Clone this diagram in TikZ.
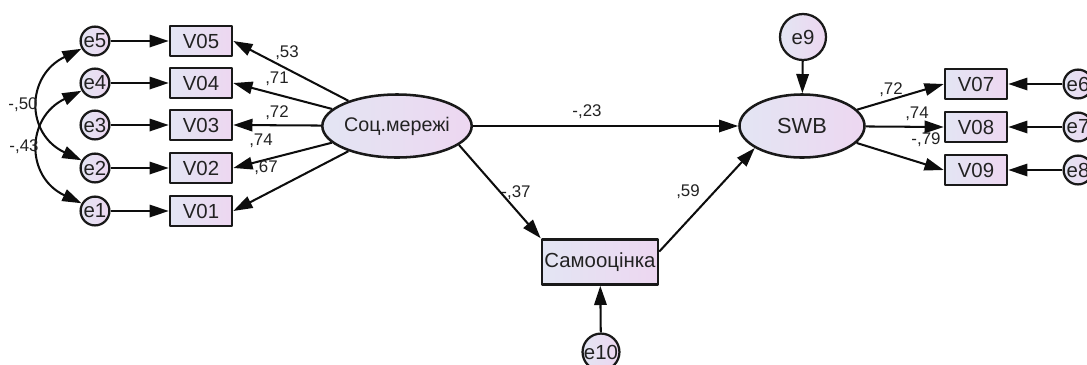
\documentclass[tikz,border=0pt]{standalone}
\usepackage{fontspec}
\setmainfont{Liberation Sans}
\usetikzlibrary{arrows.meta,shapes.geometric,positioning}

\definecolor{semBlue}{HTML}{E3E5F3}
\definecolor{semPink}{HTML}{EDD7F1}
\definecolor{semText}{HTML}{222222}

\begin{document}
\begin{tikzpicture}[
		x=0.025cm, y=-0.025cm,
		>={Triangle[length=4.8mm,width=3.1mm]},
		line join=round,
		]
		% Стилі
		\tikzset{
			obsbox/.style={rectangle, draw=black!90, line width=1.8pt, left color=semBlue, right color=semPink,
				minimum width=1.55cm, minimum height=0.75cm, inner sep=0pt, text=semText,
				font=\fontsize{14.5}{16}\selectfont},
			errc/.style={circle, draw=black!90, line width=1.6pt, left color=semBlue, right color=semPink,
				minimum size=0.72cm, inner sep=0pt, text=semText, font=\fontsize{14.5}{16}\selectfont},
			latent/.style={ellipse, draw=black!90, line width=1.8pt, left color=semBlue, right color=semPink,
				minimum width=3.125cm, minimum height=1.575cm, inner sep=0pt, text=semText,
				font=\fontsize{14}{16}\selectfont},
			coef/.style={inner sep=0pt, text=semText, font=\fontsize{12}{14}\selectfont},
			path/.style={->, line width=1.45pt, draw=black!95}
		}
		\useasboundingbox (0,0) rectangle (1087,364);

		% ===== Латентні змінні =====
		\node[latent] (soc) at (397,126) {Соц.мережі};
		\node[latent, font=\fontsize{15.5}{18}\selectfont] (swb) at (802,126) {SWB};
		\node[obsbox, minimum width=2.9cm, minimum height=1.125cm] (samo) at (600,262) {Самооцінка};

		% ===== Індикатори зліва =====
		\foreach \i/\y in {5/41, 4/83, 3/125, 2/168, 1/211} {
			\node[errc] (e\i) at (95,\y) {e\i};
			\node[obsbox] (V0\i) at (201,\y) {V0\i};
			\draw[path] (e\i) -- (V0\i);
			\draw[path] (soc) -- (V0\i.east);
		}

		% ===== Індикатори справа =====
		\foreach \i/\e/\y in {7/6/84, 8/7/127, 9/8/170} {
			\node[obsbox] (V0\i) at (976,\y) {V0\i};
			\node[errc] (e\e) at (1078,\y) {e\e};
			\draw[path] (e\e) -- (V0\i);
			\draw[path] (swb) -- (V0\i.west);
		}

		% ===== Похибки =====
		\node[errc, minimum size=1.15cm] (e9) at (803,37) {e9};
		\node[errc, minimum size=0.8cm] (e10) at (601,352) {e10};
		\draw[path] (e9) -- (swb);
		\draw[path] (e10) -- (samo);

		% ===== Структурні шляхи =====
		\draw[path] (soc) -- (swb);
		\draw[path] (soc.-17) -- (samo.north west);
		\draw[path] (samo.10) -- (swb.205);

		% ===== Коваріації =====
		\draw[path, <->] (e5.210) .. controls +(-56,27) and +(-56,-26) .. (e2.150);
		\draw[path, <->] (e4.210) .. controls +(-56,27) and +(-56,-26) .. (e1.150);

		% ===== Коефіцієнти =====
		\node[coef] (k53) at (287,53) {,53};
		\node[coef] (k71) at (277,79) {,71};
		\node[coef] (k72) at (277,113) {,72};
		\node[coef] (k74) at (261,141) {,74};
		\node[coef] (k67) at (266,168) {,67};
		\node[coef] (k50) at (23,105) {-,50};
		\node[coef] (k43) at (24,147) {-,43};
		\node[coef] (k23) at (587,112) {-,23};
		\node[coef] (k37) at (516,193) {-,37};
		\node[coef] (k59) at (688,192) {,59};
		\node[coef] (k72b) at (891,90) {,72};
		\node[coef] (k74b) at (917,114) {,74};
		\node[coef] (k79) at (926,140) {-,79};
	\end{tikzpicture}
\end{document}
